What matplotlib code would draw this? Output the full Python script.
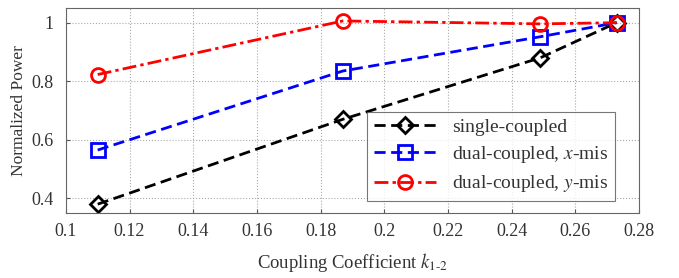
import matplotlib
matplotlib.use("Agg")
import matplotlib.pyplot as plt

# coupling coefficient k_1-2 and normalized power per configuration
k12 = [0.11, 0.187, 0.249, 0.273]
single_coupled = [0.38, 0.67, 0.88, 1.0]
dual_x_mis = [0.565, 0.835, 0.952, 1.0]
dual_y_mis = [0.823, 1.006, 0.996, 1.0]

xticks = [0.1, 0.12, 0.14, 0.16, 0.18, 0.2, 0.22, 0.24, 0.26, 0.28]
xticklabels = ['0.1', '0.12', '0.14', '0.16', '0.18', '0.2', '0.22', '0.24', '0.26', '0.28']
yticks = [0.4, 0.6, 0.8, 1.0]
yticklabels = ['0.4', '0.6', '0.8', '1']

plt.rcParams['font.family'] = 'Liberation Serif'
plt.rcParams['mathtext.fontset'] = 'stix'

fig = plt.figure(figsize=(6.79, 2.78), dpi=100)
ax = fig.add_axes([0.097, 0.234, 0.844, 0.737])

ax.plot(k12, single_coupled, color='black', linestyle=(0, (4, 2)), linewidth=2,
        marker='D', markersize=8, markerfacecolor='none', markeredgewidth=2,
        label='single-coupled')
ax.plot(k12, dual_x_mis, color='blue', linestyle=(0, (4, 2)), linewidth=2,
        marker='s', markersize=10, markerfacecolor='none', markeredgewidth=2,
        label='dual-coupled, $x$-mis')
ax.plot(k12, dual_y_mis, color='red', linestyle=(0, (5, 1.5, 1.2, 1.5)), linewidth=2,
        marker='o', markersize=10, markerfacecolor='none', markeredgewidth=2,
        label='dual-coupled, $y$-mis')

ax.set_xlim(0.1, 0.28)
ax.set_ylim(0.35, 1.05)
ax.set_xticks(xticks)
ax.set_xticklabels(xticklabels)
ax.set_yticks(yticks)
ax.set_yticklabels(yticklabels)
ax.tick_params(labelsize=13, direction='in', length=3, color='#555555', labelcolor='#333333')
ax.tick_params(axis='x', pad=7)
ax.tick_params(axis='y', pad=9)
ax.grid(True, linestyle=':', color='#aaaaaa', linewidth=0.8)
for s in ax.spines.values():
    s.set_color('#666666')

ax.set_xlabel('Coupling Coefficient $k_{\\mathrm{1\\text{-}2}}$', fontsize=13.5,
              color='#333333', labelpad=8)
ax.set_ylabel('Normalized Power', fontsize=12.5, color='#333333', labelpad=3)

leg = ax.legend(loc='lower right', fontsize=14, handlelength=3.2, fancybox=False,
                edgecolor='#555555', borderpad=0.35, labelspacing=0.42,
                bbox_to_anchor=(0.975, 0.01))
leg.get_frame().set_linewidth(0.8)
for t in leg.get_texts():
    t.set_color('#333333')

fig.savefig('out.png', dpi=100)
